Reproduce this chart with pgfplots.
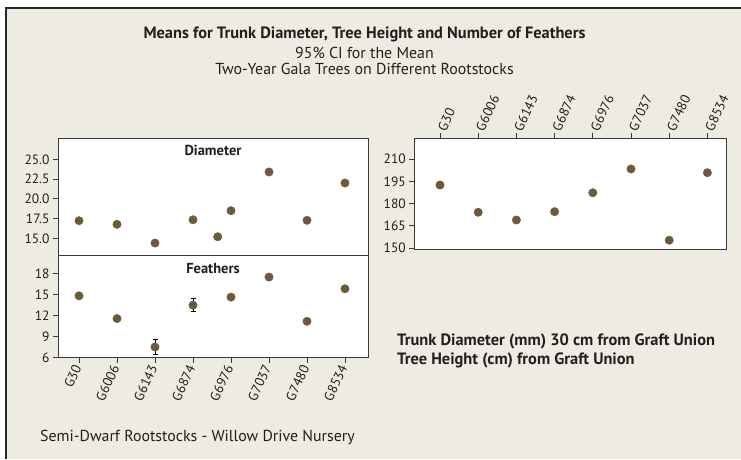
\documentclass[border=0pt]{standalone}
\usepackage{fontspec}
\setmainfont{PT Sans}
\usepackage{pgfplots}
\pgfplotsset{compat=1.18}
\definecolor{bg}{HTML}{EEEBE3}
\definecolor{ptc}{HTML}{6B5B3B}
\definecolor{axc}{HTML}{3A3A3A}
\definecolor{txt}{HTML}{231F20}
\pgfplotsset{
  mystyle/.style={
    scale only axis,
    anchor=south west,
    axis background/.style={fill=white},
    axis line style={axc, line width=0.9pt},
    tick style={axc, line width=0.9pt},
    tick align=outside,
    major tick length=5pt,
    ytick pos=left,
    tick label style={font=\fontsize{13.5}{15}\selectfont, text=txt},
    /pgf/number format/assume math mode=true,
    clip=false,
  },
  pts/.style={only marks, mark=*, mark size=4.2pt, color=ptc},
}
\begin{document}
\begin{tikzpicture}[every node/.style={text=txt}]
\useasboundingbox (0pt,0pt) rectangle (741pt,459pt);
\fill[white] (0pt,0pt) rectangle (741pt,459pt);
\fill[bg] (6pt,0pt) rectangle (741pt,451pt);
\draw[line width=2pt, black!85] (6pt,0pt) -- (6pt,451pt) -- (741pt,451pt);

\node[font=\bfseries\fontsize{16.4}{19}\selectfont] at (364.5pt,425pt) {Means for Trunk Diameter, Tree Height and Number of Feathers};
\node[font=\fontsize{15.9}{19}\selectfont] at (364.5pt,406.5pt) {95\% CI for the Mean};
\node[font=\fontsize{15.9}{19}\selectfont] at (364.5pt,390pt) {Two-Year Gala Trees on Different Rootstocks};

% Diameter
\begin{axis}[mystyle, at={(58pt,203.3pt)}, width=310pt, height=117.4pt,
  xmin=-0.553, xmax=7.605, ymin=12.8, ymax=27.66,
  xtick=\empty, ytick={15,17.5,20,22.5,25},
  yticklabel style={/pgf/number format/.cd, fixed, fixed zerofill, precision=1}]
\addplot[pts] coordinates {(0,17.23) (1,16.77) (2,14.4) (3,17.35) (3.65,15.2) (4,18.5) (5,23.4) (6,17.28) (7,22.0)};
\node[font=\bfseries\fontsize{14.5}{17}\selectfont] at (rel axis cs:0.5,0.894) {Diameter};
\end{axis}

% Feathers
\begin{axis}[mystyle, at={(58pt,101.3pt)}, width=310pt, height=102.4pt,
  xmin=-0.553, xmax=7.605, ymin=6, ymax=20.63,
  ytick={6,9,12,15,18}, xtick={0,...,7}, xtick pos=lower,
  xticklabels={G30,G6006,G6143,G6874,G6976,G7037,G7480,G8534},
  xticklabel style={rotate=65, anchor=east}]
\addplot[pts] coordinates {(0,14.84) (1,11.59) (2,7.53) (3,13.5) (4,14.66) (5,17.52) (6,11.2) (7,15.85)};
\addplot[draw=none, mark=none, forget plot,
  error bars/.cd, y dir=both, y explicit,
  error bar style={draw=black, line width=0.9pt},
  error mark options={draw=black, line width=0.9pt, mark size=2.5pt, rotate=90}]
  coordinates {(2,7.53) +- (0,1.1) (3,13.5) +- (0,0.9)};
\node[font=\bfseries\fontsize{14.5}{17}\selectfont] at (rel axis cs:0.5,0.867) {Feathers};
\end{axis}

% Height
\begin{axis}[mystyle, at={(414.3pt,209.7pt)}, width=312.4pt, height=111pt,
  xmin=-0.673, xmax=7.505, ymin=149.3, ymax=223.9,
  ytick={150,165,180,195,210}, xtick={0,...,7},
  xtick pos=upper, xticklabel pos=upper,
  xticklabels={G30,G6006,G6143,G6874,G6976,G7037,G7480,G8534},
  xticklabel style={rotate=65, anchor=west}]
\addplot[pts] coordinates {(0,192.5) (1,174.2) (2,169.0) (3,174.6) (4,187.3) (5,203.3) (6,155.4) (7,200.8)};
\end{axis}

\node[font=\bfseries\fontsize{16.4}{19}\selectfont, anchor=west, inner sep=0pt] at (397pt,118pt) {Trunk Diameter (mm) 30 cm from Graft Union};
\node[font=\bfseries\fontsize{16.4}{19}\selectfont, anchor=west, inner sep=0pt] at (397pt,98.5pt) {Tree Height (cm) from Graft Union};
\node[font=\fontsize{15.9}{19}\selectfont, anchor=west, inner sep=0pt] at (40pt,22pt) {Semi-Dwarf Rootstocks - Willow Drive Nursery};
\end{tikzpicture}
\end{document}
